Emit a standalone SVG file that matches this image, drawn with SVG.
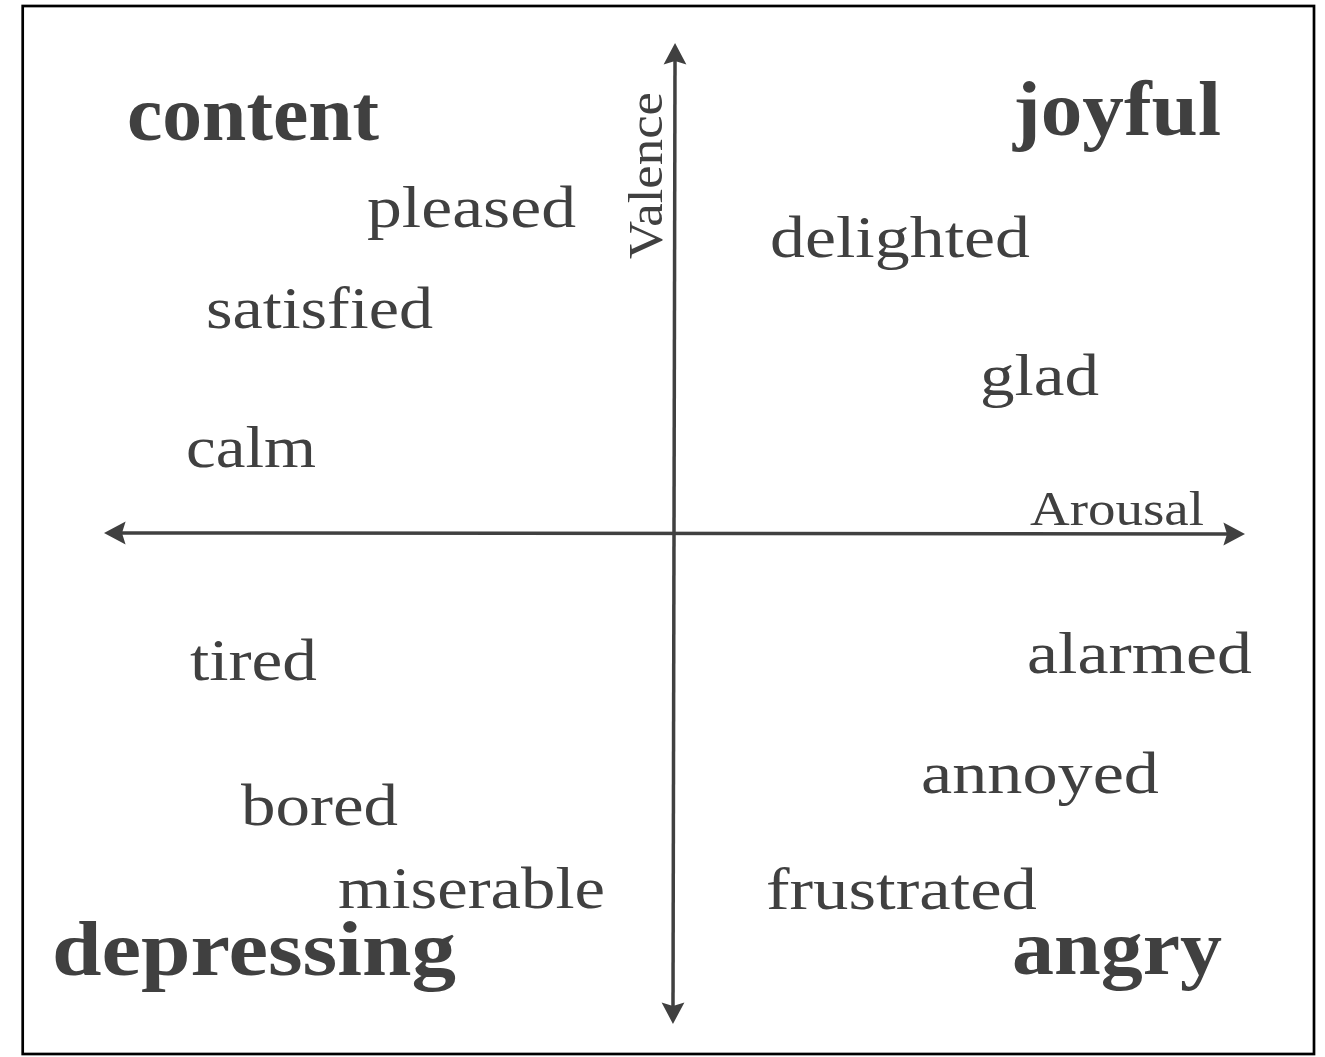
<svg xmlns="http://www.w3.org/2000/svg" width="1325" height="1057" viewBox="0 0 1325 1057">
<style>
  text { font-family: "Liberation Serif", "DejaVu Serif", serif; fill: #404040; }
  .w { font-size: 60px; }
  .b { font-size: 78px; font-weight: bold; }
  .ax { font-size: 48px; }
  .axis { stroke: #404040; stroke-width: 3.5; fill: none; }
</style>
<defs>
  <marker id="head" markerUnits="userSpaceOnUse" markerWidth="24" markerHeight="24" viewBox="0 -10 20 20" refX="3" refY="0" orient="auto-start-reverse">
    <path d="M0,-9.5 L18,0 L0,9.5 L3,0 z" fill="#404040"/>
  </marker>
</defs>
<rect x="0" y="0" width="1325" height="1057" fill="#ffffff"/>
<rect id="frame" x="22.7" y="6" width="1291.3" height="1048" fill="none" stroke="#000000" stroke-width="2.7"/>
<g id="connectors">
  <line id="valence-axis" class="axis" x1="673" y1="1006" x2="675" y2="61" marker-start="url(#head)" marker-end="url(#head)"/>
  <line id="arousal-axis" class="axis" x1="122" y1="533" x2="1227" y2="534" marker-start="url(#head)" marker-end="url(#head)"/>
</g>
<g id="label-valence"><text class="ax" transform="translate(662,259) rotate(-90)" x="0" y="0" textLength="167" lengthAdjust="spacingAndGlyphs">Valence</text></g>
<g id="label-arousal"><text class="ax" x="1030" y="525" textLength="174" lengthAdjust="spacingAndGlyphs">Arousal</text></g>
<g id="node-content"><text class="b" x="127" y="140" textLength="252" lengthAdjust="spacingAndGlyphs">content</text></g>
<g id="node-pleased"><text class="w" x="367" y="227" textLength="209" lengthAdjust="spacingAndGlyphs">pleased</text></g>
<g id="node-satisfied"><text class="w" x="206" y="328" textLength="227" lengthAdjust="spacingAndGlyphs">satisfied</text></g>
<g id="node-calm"><text class="w" x="186" y="467" textLength="130" lengthAdjust="spacingAndGlyphs">calm</text></g>
<g id="node-joyful"><text class="b" x="1013" y="135" textLength="208" lengthAdjust="spacingAndGlyphs">joyful</text></g>
<g id="node-delighted"><text class="w" x="770" y="257" textLength="260" lengthAdjust="spacingAndGlyphs">delighted</text></g>
<g id="node-glad"><text class="w" x="980" y="395" textLength="119" lengthAdjust="spacingAndGlyphs">glad</text></g>
<g id="node-tired"><text class="w" x="190" y="680" textLength="127" lengthAdjust="spacingAndGlyphs">tired</text></g>
<g id="node-bored"><text class="w" x="241" y="825" textLength="157" lengthAdjust="spacingAndGlyphs">bored</text></g>
<g id="node-miserable"><text class="w" x="338" y="908" textLength="267" lengthAdjust="spacingAndGlyphs">miserable</text></g>
<g id="node-depressing"><text class="b" x="52" y="975" textLength="404" lengthAdjust="spacingAndGlyphs">depressing</text></g>
<g id="node-alarmed"><text class="w" x="1027" y="673" textLength="225" lengthAdjust="spacingAndGlyphs">alarmed</text></g>
<g id="node-annoyed"><text class="w" x="921" y="793" textLength="238" lengthAdjust="spacingAndGlyphs">annoyed</text></g>
<g id="node-frustrated"><text class="w" x="766" y="909" textLength="271" lengthAdjust="spacingAndGlyphs">frustrated</text></g>
<g id="node-angry"><text class="b" x="1012" y="974" textLength="210" lengthAdjust="spacingAndGlyphs">angry</text></g>
</svg>
